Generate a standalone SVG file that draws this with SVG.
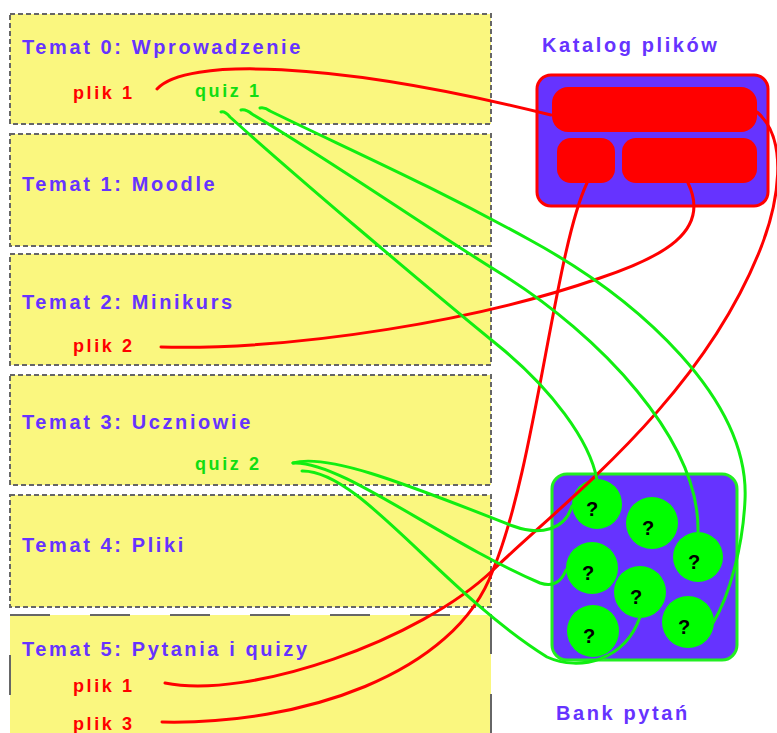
<svg xmlns="http://www.w3.org/2000/svg" width="777" height="733" viewBox="0 0 777 733">
<style>
.topic{fill:#faf77f;stroke:#666666;stroke-width:2;stroke-dasharray:5 3}
.title{font-family:"Liberation Sans",Arial,sans-serif;font-weight:bold;font-size:20px;letter-spacing:2.6px;fill:#6633ff}
.rt{font-family:"Liberation Sans",Arial,sans-serif;font-weight:bold;font-size:18px;letter-spacing:2.6px;fill:#ff0000}
.gt{font-family:"Liberation Sans",Arial,sans-serif;font-weight:bold;font-size:18px;letter-spacing:2.6px;fill:#11dd11}
.q{font-family:"Liberation Sans",Arial,sans-serif;font-weight:bold;font-size:20px;fill:#000;text-anchor:middle}
.red{fill:none;stroke:#ff0000;stroke-width:3;stroke-linecap:round}
.grn{fill:none;stroke:#11ee11;stroke-width:3;stroke-linecap:round}
.ball{fill:#00ff00}
.bar{fill:#ff0000}
</style>
<rect width="777" height="733" fill="#ffffff"/>
<g id="temat0">
<rect class="topic" x="10" y="14" width="481" height="110"/>
<text class="title" x="22" y="54">Temat 0: Wprowadzenie</text>
<text class="rt" x="73" y="99">plik 1</text>
<text class="gt" x="195" y="97">quiz 1</text>
</g>
<g id="temat1">
<rect class="topic" x="10" y="134" width="481" height="112"/>
<text class="title" x="22" y="191">Temat 1: Moodle</text>
</g>
<g id="temat2">
<rect class="topic" x="10" y="254" width="481" height="111"/>
<text class="title" x="22" y="309">Temat 2: Minikurs</text>
<text class="rt" x="73" y="352">plik 2</text>
</g>
<g id="temat3">
<rect class="topic" x="10" y="375" width="481" height="110"/>
<text class="title" x="22" y="429">Temat 3: Uczniowie</text>
<text class="gt" x="195" y="470">quiz 2</text>
</g>
<g id="temat4">
<rect class="topic" x="10" y="495" width="481" height="112"/>
<text class="title" x="22" y="552">Temat 4: Pliki</text>
</g>
<g id="temat5">
<rect class="topic" x="10" y="615" width="481" height="119" style="stroke-dasharray:40 40"/>
<text class="title" x="22" y="656">Temat 5: Pytania i quizy</text>
<text class="rt" x="73" y="692">plik 1</text>
<text class="rt" x="73" y="730">plik 3</text>
</g>
<g id="katalog">
<text class="title" x="542" y="52">Katalog plików</text>
<rect x="537" y="75" width="231" height="131" rx="14" fill="#6633ff" stroke="#ff0000" stroke-width="3"/>
<rect class="bar" x="552" y="87" width="205" height="45" rx="16"/>
<rect class="bar" x="557" y="138" width="58" height="45" rx="14"/>
<rect class="bar" x="622" y="138" width="135" height="45" rx="14"/>
</g>
<g id="bank">
<rect x="552" y="474" width="185" height="186" rx="15" fill="#6633ff" stroke="#22ee22" stroke-width="3"/>
<circle class="ball" cx="597" cy="504" r="25"/>
<circle class="ball" cx="652" cy="523" r="26"/>
<circle class="ball" cx="698" cy="557" r="25"/>
<circle class="ball" cx="592" cy="568" r="26"/>
<circle class="ball" cx="640" cy="592" r="26"/>
<circle class="ball" cx="593" cy="631" r="26"/>
<circle class="ball" cx="688" cy="622" r="26"/>
<text class="q" x="592" y="516">?</text>
<text class="q" x="648" y="535">?</text>
<text class="q" x="694" y="569">?</text>
<text class="q" x="588" y="580">?</text>
<text class="q" x="636" y="604">?</text>
<text class="q" x="589" y="643">?</text>
<text class="q" x="684" y="634">?</text>
<text class="title" x="556" y="720">Bank pytań</text>
</g>
<g id="connectors">
<path class="red" d="M157,89 C185,58 330,60 551,115"/>
<path class="red" d="M161,347 C300,350 480,320 600,278 C660,258 712,232 688,183"/>
<path class="red" d="M165,683 C250,700 420,640 493,570 C566,500 700,400 760,250 C778,205 790,140 757,112"/>
<path class="red" d="M162,722 C300,725 455,675 493,570 C535,470 555,250 587,183"/>
<path class="grn" d="M221,112 Q225,111 230,117 C300,180 430,290 500,347 C550,388 590,440 597,480"/>
<path class="grn" d="M241,110 Q246,109 252,114 C330,160 430,230 500,273 C600,335 700,440 698,532"/>
<path class="grn" d="M260,108 Q265,107 270,111 C350,150 430,185 530,240 C640,300 750,400 745,500 C743,545 730,595 713,623"/>
<path class="grn" d="M293,463 C330,452 420,490 513,526 C540,536 565,530 572,506"/>
<path class="grn" d="M293,463 C340,460 440,540 540,583 C555,588 562,580 566,570"/>
<path class="grn" d="M302,471 C360,470 440,590 547,657 C580,672 625,660 640,617"/>
</g>
</svg>
